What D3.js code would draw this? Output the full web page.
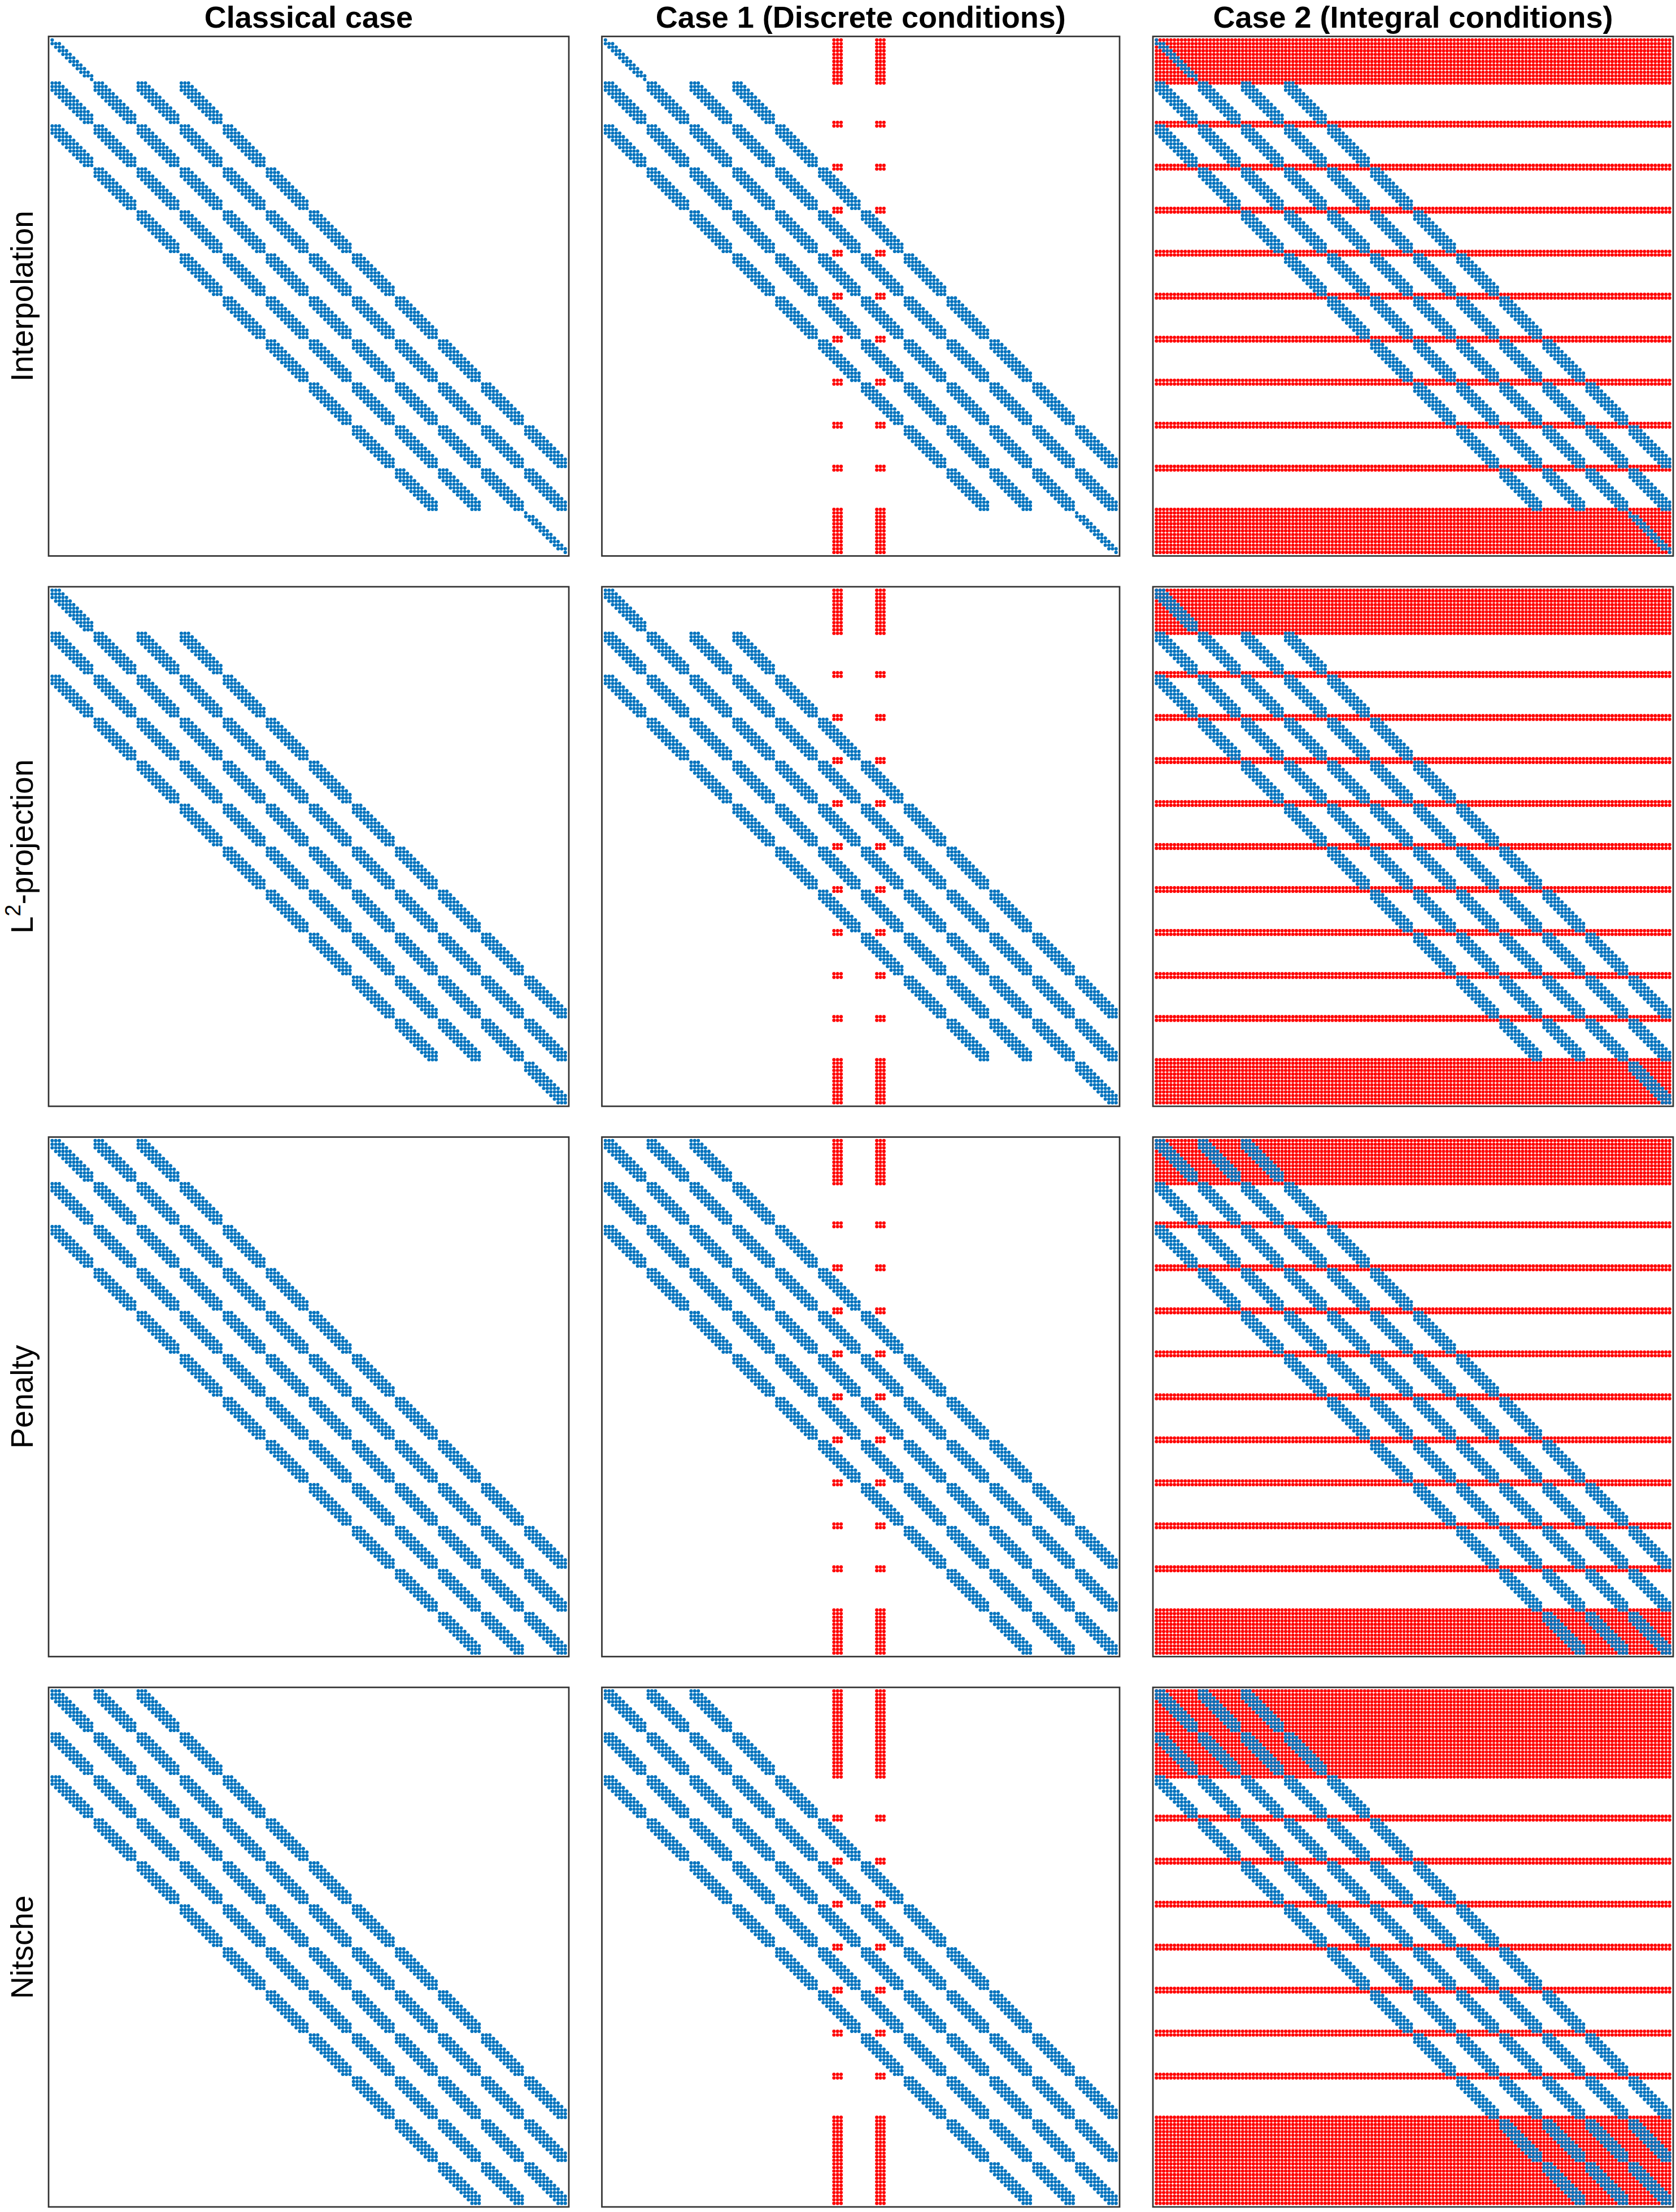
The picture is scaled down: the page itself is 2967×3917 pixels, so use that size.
<!DOCTYPE html>
<html lang="en">
<head>
  <meta charset="UTF-8">
  <title>Sparsity patterns</title>
  <script src="https://d3js.org/d3.v7.min.js"></script>
  <style>
    html, body { margin: 0; background: #fff; }
    text { font-family: "Liberation Sans", Arial, sans-serif; fill: #000; }
    .title { font-size: 54px; font-weight: bold; text-anchor: middle; }
    .rowlabel { font-size: 55px; text-anchor: middle; }
  </style>
</head>
<body>
<div id="chart"></div>

<script>
  // labels
  const columnTitles = ["Classical case", "Case 1 (Discrete conditions)", "Case 2 (Integral conditions)"];
  const methods = ["Interpolation", "L2-projection", "Penalty", "Nitsche"];

  // the matrix is 144 x 144, made of 12 x 12 blocks
  const blockSize = 12;
  const matrixSize = 144;

  // entries of a 12 x 12 block, row by row
  const triBlock = [[0], [0, 1, 2], [1, 2, 3], [2, 3, 4], [3, 4, 5], [4, 5, 6],
    [5, 6, 7], [6, 7, 8], [7, 8, 9], [8, 9, 10], [9, 10, 11], [11]];
  const pentaBlock = [[0, 1, 2], [0, 1, 2, 3], [0, 1, 2, 3, 4], [1, 2, 3, 4, 5], [2, 3, 4, 5, 6], [3, 4, 5, 6, 7],
    [4, 5, 6, 7, 8], [5, 6, 7, 8, 9], [6, 7, 8, 9, 10], [7, 8, 9, 10, 11], [8, 9, 10, 11], [9, 10, 11]];

  // which block columns are filled in each block row
  const innerBlockRows = [[0, 1, 2, 3], [0, 1, 2, 3, 4], [1, 2, 3, 4, 5], [2, 3, 4, 5, 6], [3, 4, 5, 6, 7],
    [4, 5, 6, 7, 8], [5, 6, 7, 8, 9], [6, 7, 8, 9, 10], [7, 8, 9, 10, 11], [8, 9, 10, 11]];
  const interpFirst = [0], interpLast = [11];
  const l2First = [0], l2Last = [11];
  const penaltyFirst = [0, 1, 2], penaltyLast = [9, 10, 11];
  const nitscheFirst = [0, 1, 2], nitscheLast = [9, 10, 11];

  // extra rows (red) for the coupling conditions
  const couplingRows = [0, 1, 2, 3, 4, 5, 6, 7, 8, 9, 10, 11, 12,
    23, 24, 35, 36, 47, 48, 59, 60, 71, 72, 83, 84, 95, 96, 107, 108, 119, 120,
    131, 132, 133, 134, 135, 136, 137, 138, 139, 140, 141, 142, 143];
  const nitscheCouplingRows = [0, 1, 2, 3, 4, 5, 6, 7, 8, 9, 10, 11, 12,
    13, 14, 15, 16, 17, 18, 19, 20, 21, 22, 23, 24,
    35, 36, 47, 48, 59, 60, 71, 72, 83, 84, 95, 96, 107, 108,
    119, 120, 121, 122, 123, 124, 125, 126, 127, 128, 129, 130, 131,
    132, 133, 134, 135, 136, 137, 138, 139, 140, 141, 142, 143];

  // extra columns (red) in case 1, all columns in case 2
  const discreteColumns = [64, 65, 66, 76, 77, 78];
  const integralColumns = d3.range(matrixSize);

  const patterns = [
    { first: interpFirst, last: interpLast, edge: triBlock, rows: couplingRows },
    { first: l2First, last: l2Last, edge: pentaBlock, rows: couplingRows },
    { first: penaltyFirst, last: penaltyLast, edge: pentaBlock, rows: couplingRows },
    { first: nitscheFirst, last: nitscheLast, edge: pentaBlock, rows: nitscheCouplingRows }
  ];

  // page layout
  const width = 2967, height = 3917;
  const panelLeft = [86, 1065.5, 2041];
  const panelWidth = [921, 916.5, 921];
  const panelTop = [64.5, 1039, 2013.5, 2988];
  const panelHeight = 920;
  const dotRadius = 3.05;

  const blue = "#0072BD", red = "#FF0000";

  const svg = d3.select("#chart").append("svg")
    .attr("width", width)
    .attr("height", height)
    .style("display", "block");

  // blue entries of the matrix for one method
  function blueEntries(pattern) {
    const blockRows = [pattern.first, ...innerBlockRows, pattern.last];
    const out = [];
    blockRows.forEach((blocks, br) => {
      const stencil = (br === 0 || br === blockRows.length - 1) ? pattern.edge : pentaBlock;
      blocks.forEach(bc => {
        stencil.forEach((cols, r) => {
          cols.forEach(c => out.push([br * blockSize + r, bc * blockSize + c]));
        });
      });
    });
    return out;
  }

  function redEntries(rows, cols) {
    const out = [];
    rows.forEach(r => cols.forEach(c => out.push([r, c])));
    return out;
  }

  patterns.forEach((pattern, rowIdx) => {
    const blues = blueEntries(pattern);
    const redSets = [[], redEntries(pattern.rows, discreteColumns), redEntries(pattern.rows, integralColumns)];

    redSets.forEach((reds, colIdx) => {
      // like spy(): axis limits run from 0 to n + 1
      const x = d3.scaleLinear().domain([0, matrixSize + 1])
        .range([panelLeft[colIdx], panelLeft[colIdx] + panelWidth[colIdx]]);
      const y = d3.scaleLinear().domain([0, matrixSize + 1])
        .range([panelTop[rowIdx], panelTop[rowIdx] + panelHeight]);

      const g = svg.append("g");

      g.append("g").selectAll("circle").data(reds).enter().append("circle")
        .attr("cx", d => x(d[1] + 1))
        .attr("cy", d => y(d[0] + 1))
        .attr("r", dotRadius)
        .attr("fill", red);

      g.append("g").selectAll("circle").data(blues).enter().append("circle")
        .attr("cx", d => x(d[1] + 1))
        .attr("cy", d => y(d[0] + 1))
        .attr("r", dotRadius)
        .attr("fill", blue);

      g.append("rect")
        .attr("x", x(0))
        .attr("y", y(0))
        .attr("width", x(matrixSize + 1) - x(0))
        .attr("height", y(matrixSize + 1) - y(0))
        .attr("fill", "none")
        .attr("stroke", "#333")
        .attr("stroke-width", 2.7);
    });
  });

  // column titles, kept just inside the top edge
  svg.selectAll(".title").data(columnTitles).enter().append("text")
    .attr("class", "title")
    .attr("x", (d, i) => panelLeft[i] + panelWidth[i] / 2)
    .attr("y", 49)
    .text(d => d);

  // row labels, the L2 one needs a raised 2
  methods.forEach((name, i) => {
    const cy = panelTop[i] + panelHeight / 2;
    const label = svg.append("text")
      .attr("class", "rowlabel")
      .attr("transform", `translate(58,${cy}) rotate(-90)`);
    if (name === "L2-projection") {
      label.append("tspan").text("L");
      label.append("tspan").attr("dy", -22).style("font-size", "38px").text("2");
      label.append("tspan").attr("dy", 22).text("-projection");
    } else {
      label.text(name);
    }
  });
</script>

</body>
</html>
